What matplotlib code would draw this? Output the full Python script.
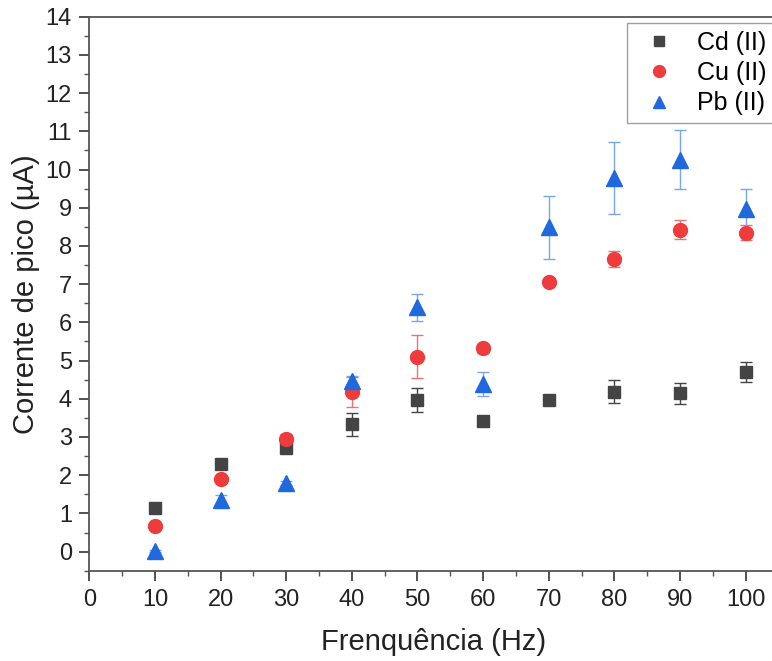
import matplotlib
matplotlib.use('Agg')
import matplotlib.pyplot as plt
from matplotlib.ticker import MultipleLocator

plt.rcParams['font.family'] = ['Liberation Sans', 'DejaVu Sans']

freq = [10, 20, 30, 40, 50, 60, 70, 80, 90, 100]

cd = [1.13, 2.30, 2.70, 3.33, 3.96, 3.43, 3.97, 4.19, 4.14, 4.70]
cd_err = [0.05, 0.08, 0.10, 0.31, 0.31, 0.10, 0.08, 0.31, 0.28, 0.27]

cu = [0.66, 1.91, 2.95, 4.18, 5.10, 5.32, 7.05, 7.65, 8.43, 8.35]
cu_err = [0.05, 0.08, 0.12, 0.40, 0.56, 0.12, 0.08, 0.21, 0.26, 0.20]

pb = [0.02, 1.34, 1.79, 4.47, 6.39, 4.38, 8.49, 9.78, 10.26, 8.97]
pb_err = [0.03, 0.13, 0.05, 0.12, 0.36, 0.32, 0.83, 0.94, 0.78, 0.53]

fig = plt.figure(figsize=(7.72, 6.61), dpi=100)
ax = fig.add_axes([0.1157, 0.1366, 0.8927, 0.8381])

ax.errorbar(freq, cd, yerr=cd_err, fmt='s', color='#444444', ecolor='#444444',
            elinewidth=1, capsize=4, capthick=1, markersize=9, label='Cd (II)')
ax.errorbar(freq, cu, yerr=cu_err, fmt='o', color='#ee3b3b', ecolor='#f07070',
            elinewidth=1, capsize=4, capthick=1, markersize=10, label='Cu (II)')
ax.errorbar(freq, pb, yerr=pb_err, fmt='^', color='#1f68dd', ecolor='#7aa4ec',
            elinewidth=1, capsize=4, capthick=1, markersize=11, label='Pb (II)')

ax.set_xlim(0, 105)
ax.set_ylim(-0.5, 14)
ax.xaxis.set_major_locator(MultipleLocator(10))
ax.xaxis.set_minor_locator(MultipleLocator(5))
ax.yaxis.set_minor_locator(MultipleLocator(0.5))
ax.set_yticks(range(0, 15))

for s in ax.spines.values():
    s.set_color('#555555')
    s.set_linewidth(1.3)
ax.spines['right'].set_visible(False)
ax.tick_params(which='major', direction='out', length=7.5, width=1.2, color='#333333',
               labelsize=17, labelcolor='#222222')
ax.tick_params(axis='x', which='major', pad=6)
ax.tick_params(axis='y', which='major', pad=5)
ax.tick_params(which='minor', direction='out', length=3.5, width=1, color='#555555')

ax.set_xlabel('Frenquência (Hz)', fontsize=21, color='#222222', labelpad=12)
ax.set_ylabel('Corrente de pico (µA)', fontsize=21, color='#222222', labelpad=4)

handles, labels = ax.get_legend_handles_labels()
handles = [h[0] for h in handles]
leg = ax.legend(handles, labels, loc='upper left', bbox_to_anchor=(0.780, 0.988),
                fontsize=18, frameon=True, fancybox=False, edgecolor='#888888',
                borderpad=0.3, borderaxespad=0, labelspacing=0.25, handlelength=2.0,
                handletextpad=0.5, markerscale=0.85)
leg.get_frame().set_linewidth(1)

fig.savefig('out.png', dpi=100)
